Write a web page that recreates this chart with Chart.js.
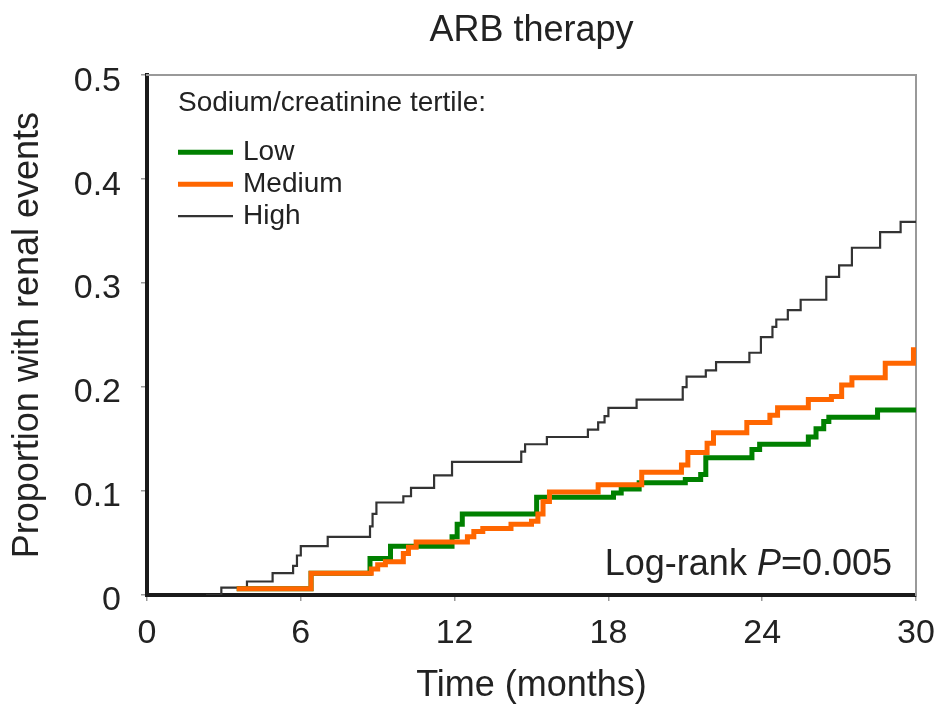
<!DOCTYPE html>
<html>
<head>
<meta charset="utf-8">
<script src="https://cdn.jsdelivr.net/npm/chart.js@4/dist/chart.umd.min.js"></script>
<style>
  body { margin: 0; background: #fff; }
  canvas { display: block; }
</style>
</head>
<body>
<canvas id="km" width="935" height="708"></canvas>
<script>
const FONT = '"Liberation Sans", Arial, Helvetica, sans-serif';

// ticks
const xTicks = [0, 6, 12, 18, 24, 30];
const yTicks = [0, 0.1, 0.2, 0.3, 0.4, 0.5];

// Kaplan-Meier style cumulative curves (month, proportion)
const lowTimes  = [3.5, 6.4, 8.7, 9.5, 11.9, 12.1, 12.3, 15.2, 18.2, 18.5, 19.2, 21.0, 21.6, 21.8, 23.6, 23.9, 25.8, 26.1, 26.4, 26.6, 28.5, 30];
const lowValues = [0.006, 0.021, 0.035, 0.047, 0.056, 0.068, 0.078, 0.094, 0.098, 0.102, 0.108, 0.111, 0.116, 0.132, 0.14, 0.145, 0.152, 0.16, 0.167, 0.171, 0.178, 0.178];

const mediumTimes  = [3.5, 6.4, 8.75, 9.0, 9.3, 10.0, 10.2, 10.5, 12.5, 12.75, 13.1, 14.2, 15.0, 15.25, 15.45, 15.7, 17.6, 19.3, 20.85, 21.1, 21.85, 22.1, 23.4, 24.3, 24.6, 25.8, 26.7, 27.1, 27.5, 28.8, 29.9, 30];
const mediumValues = [0.006, 0.021, 0.025, 0.029, 0.032, 0.04, 0.046, 0.051, 0.056, 0.061, 0.064, 0.068, 0.071, 0.078, 0.09, 0.099, 0.106, 0.118, 0.125, 0.137, 0.146, 0.156, 0.166, 0.173, 0.18, 0.188, 0.191, 0.202, 0.209, 0.223, 0.236, 0.236];

const highTimes  = [2.3, 2.9, 3.9, 4.9, 5.7, 5.85, 6.0, 7.05, 8.7, 8.8, 8.95, 10.0, 10.3, 11.2, 11.9, 14.6, 14.75, 15.6, 17.2, 17.6, 17.85, 18.0, 19.1, 20.9, 21.05, 21.8, 22.2, 23.5, 23.95, 24.4, 24.55, 25.0, 25.5, 26.5, 27.0, 27.5, 28.6, 29.4, 30];
const highValues = [0, 0.007, 0.013, 0.021, 0.028, 0.038, 0.047, 0.056, 0.066, 0.078, 0.089, 0.095, 0.103, 0.115, 0.128, 0.138, 0.145, 0.152, 0.159, 0.166, 0.172, 0.18, 0.188, 0.2, 0.21, 0.216, 0.224, 0.233, 0.248, 0.258, 0.265, 0.274, 0.284, 0.306, 0.317, 0.334, 0.349, 0.359, 0.359];

const legendTitle = 'Sodium/creatinine tertile:';

const pts = (t, v) => t.map((x, i) => ({ x: x, y: v[i] }));

// legend inside the plot + log-rank note
const notes = {
  id: 'notes',
  afterDatasetsDraw(chart) {
    const { ctx, chartArea: a } = chart;
    ctx.save();
    ctx.fillStyle = '#222';
    ctx.font = '28px ' + FONT;
    ctx.textBaseline = 'alphabetic';
    ctx.fillText(legendTitle, a.left + 31, a.top + 36);

    ctx.textBaseline = 'middle';
    chart.data.datasets.forEach((ds, i) => {
      const y = a.top + 77 + i * 32;
      ctx.beginPath();
      ctx.strokeStyle = ds.borderColor;
      ctx.lineWidth = ds.borderWidth;
      ctx.moveTo(a.left + 31, y);
      ctx.lineTo(a.left + 86, y);
      ctx.stroke();
      ctx.fillText(ds.label, a.left + 96, y);
    });

    // Log-rank P=0.005, P in italics
    const base = a.bottom - 20;
    const right = a.right - 24;
    const up = '36px ' + FONT, it = 'italic 36px ' + FONT;
    const s1 = 'Log-rank ', s2 = 'P', s3 = '=0.005';
    ctx.font = up;
    const w1 = ctx.measureText(s1).width, w3 = ctx.measureText(s3).width;
    ctx.font = it;
    const w2 = ctx.measureText(s2).width;
    let x = right - (w1 + w2 + w3);
    ctx.textBaseline = 'alphabetic';
    ctx.font = up; ctx.fillText(s1, x, base); x += w1;
    ctx.font = it; ctx.fillText(s2, x, base); x += w2;
    ctx.font = up; ctx.fillText(s3, x, base);
    ctx.restore();
  }
};

const ctx = document.getElementById('km');

const chart = new Chart(ctx, {
  type: 'line',
  data: {
    datasets: [
      { label: 'Low', data: pts(lowTimes, lowValues), borderColor: '#008000', borderWidth: 5, order: 1 },
      { label: 'Medium', data: pts(mediumTimes, mediumValues), borderColor: '#ff6600', borderWidth: 5, order: 0 },
      { label: 'High', data: pts(highTimes, highValues), borderColor: '#333333', borderWidth: 2.2, order: 2 }
    ].map(d => Object.assign(d, {
      stepped: 'before', pointRadius: 0, fill: false, xAxisID: 'x', yAxisID: 'y', borderJoinStyle: 'miter'
    }))
  },
  options: {
    responsive: false,
    animation: false,
    devicePixelRatio: 1,
    layout: { padding: 0 },
    plugins: {
      legend: { display: false },
      tooltip: { enabled: false },
      title: {
        display: true,
        text: 'ARB therapy',
        fullSize: false,
        color: '#222',
        font: { family: FONT, size: 36, weight: 'normal' },
        padding: { top: 9, bottom: 23 }
      }
    },
    scales: {
      x: {
        type: 'linear', position: 'bottom', min: 0, max: 30,
        afterBuildTicks: s => { s.ticks = xTicks.map(v => ({ value: v })); },
        afterFit: s => { s.height = 113; s.paddingLeft = 0; s.paddingRight = 0; },
        ticks: { color: '#222', font: { family: FONT, size: 34 }, padding: 12, callback: v => String(v) },
        grid: { drawOnChartArea: false, tickLength: 6, color: '#999', lineWidth: 1.5 },
        border: { color: '#1a1a1a', width: 4 },
        title: { display: true, text: 'Time (months)', color: '#222', font: { family: FONT, size: 36 }, padding: { top: 0, bottom: 0 } }
      },
      y: {
        type: 'linear', position: 'left', min: 0, max: 0.5,
        afterBuildTicks: s => { s.ticks = yTicks.map(v => ({ value: v })); },
        afterFit: s => { s.width = 147; s.paddingTop = 0; s.paddingBottom = 0; },
        ticks: { color: '#222', font: { family: FONT, size: 34 }, padding: 20, labelOffset: 6, callback: v => String(v) },
        grid: { drawOnChartArea: false, tickLength: 6, color: '#999', lineWidth: 1.5 },
        border: { color: '#1a1a1a', width: 4 },
        title: { display: true, text: 'Proportion with renal events', color: '#222', font: { family: FONT, size: 36 }, padding: { top: 6, bottom: 0 } }
      },
      x2: {
        type: 'linear', axis: 'x', position: 'top', min: 0, max: 30,
        afterFit: s => { s.height = 0; s.paddingLeft = 0; s.paddingRight = 0; },
        ticks: { display: false },
        grid: { display: false, drawTicks: false },
        border: { color: '#999', width: 2 }
      },
      y2: {
        type: 'linear', axis: 'y', position: 'right', min: 0, max: 0.5,
        afterFit: s => { s.width = 19; s.paddingTop = 0; s.paddingBottom = 0; },
        ticks: { display: false },
        grid: { display: false, drawTicks: false },
        border: { color: '#999', width: 2 }
      }
    }
  },
  plugins: [notes]
});
</script>
</body>
</html>
